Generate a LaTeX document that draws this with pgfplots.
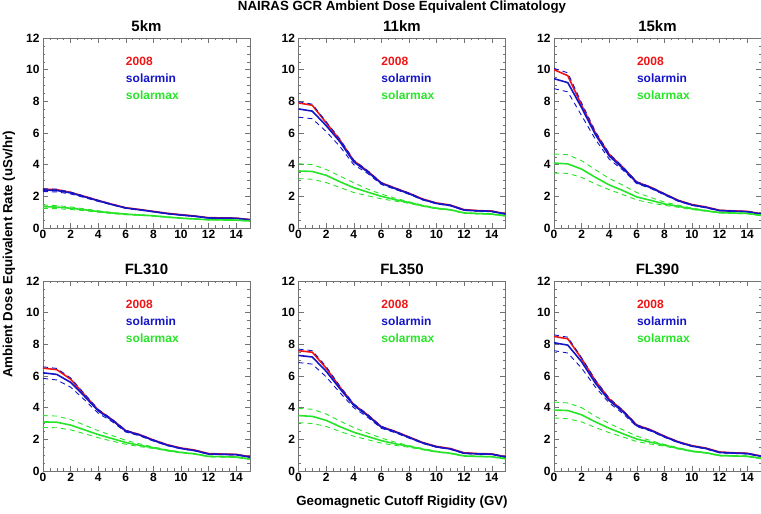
\documentclass[border=0pt]{standalone}
\usepackage{fontspec}
\setmainfont{Liberation Sans}
\usepackage{pgfplots}
\usepackage{pgfplotstable}
\pgfplotsset{compat=1.18}
\usepgfplotslibrary{groupplots}

\definecolor{cred}{RGB}{240,20,20}
\definecolor{cblue}{RGB}{20,20,200}
\definecolor{cgreen}{RGB}{40,228,40}

% columns: rigidity, 2008, solarmin (mean, upper, lower), solarmax (mean, upper, lower)
\pgfplotstableread{
x r b bu bl g gu gl
0 2.45 2.40 2.48 2.30 1.35 1.45 1.24
1 2.42 2.37 2.45 2.28 1.32 1.42 1.22
2 2.25 2.22 2.27 2.15 1.25 1.33 1.17
3 2.00 1.97 2.01 1.92 1.15 1.21 1.09
4 1.74 1.72 1.75 1.68 1.04 1.09 1.00
5 1.50 1.48 1.50 1.46 0.95 0.98 0.91
6 1.28 1.26 1.28 1.24 0.87 0.90 0.84
7 1.17 1.15 1.16 1.13 0.82 0.84 0.80
8 1.05 1.03 1.04 1.02 0.77 0.79 0.75
9 0.93 0.91 0.92 0.90 0.69 0.70 0.67
10 0.84 0.82 0.83 0.81 0.62 0.63 0.61
11 0.76 0.74 0.75 0.73 0.57 0.58 0.56
12 0.65 0.63 0.64 0.62 0.52 0.53 0.51
13 0.64 0.62 0.63 0.61 0.51 0.52 0.50
14 0.62 0.61 0.62 0.60 0.50 0.51 0.49
15 0.53 0.52 0.53 0.51 0.44 0.45 0.43
}\tfive

\pgfplotstableread{
x r b bu bl g gu gl
0 7.90 7.52 7.98 7.00 3.60 4.06 3.12
1 7.75 7.38 7.82 6.90 3.57 4.00 3.08
2 6.65 6.47 6.72 6.10 3.33 3.70 2.87
3 5.55 5.45 5.62 5.15 2.92 3.28 2.56
4 4.25 4.18 4.30 4.00 2.55 2.86 2.24
5 3.60 3.55 3.63 3.45 2.27 2.46 2.04
6 2.85 2.82 2.87 2.75 2.00 2.14 1.84
7 2.52 2.49 2.53 2.44 1.79 1.88 1.70
8 2.20 2.17 2.21 2.13 1.61 1.66 1.56
9 1.83 1.80 1.83 1.77 1.40 1.44 1.37
10 1.58 1.55 1.58 1.53 1.24 1.27 1.21
11 1.45 1.42 1.45 1.40 1.15 1.17 1.13
12 1.16 1.13 1.15 1.11 0.95 0.97 0.93
13 1.10 1.08 1.10 1.06 0.91 0.93 0.89
14 1.07 1.05 1.07 1.03 0.88 0.90 0.86
15 0.90 0.88 0.90 0.86 0.77 0.79 0.75
}\televen

\pgfplotstableread{
x r b bu bl g gu gl
0 10.00 9.43 10.08 8.80 4.10 4.67 3.47
1 9.62 9.18 9.80 8.60 4.05 4.63 3.45
2 7.75 7.60 7.90 7.10 3.72 4.25 3.20
3 6.00 5.90 6.10 5.60 3.20 3.68 2.78
4 4.66 4.55 4.70 4.35 2.72 3.13 2.42
5 3.82 3.76 3.86 3.65 2.36 2.70 2.10
6 2.90 2.86 2.92 2.80 1.96 2.24 1.77
7 2.58 2.55 2.60 2.50 1.75 1.93 1.58
8 2.16 2.13 2.17 2.09 1.52 1.63 1.43
9 1.75 1.72 1.75 1.69 1.37 1.44 1.31
10 1.48 1.45 1.48 1.43 1.21 1.26 1.17
11 1.33 1.30 1.32 1.28 1.09 1.12 1.06
12 1.12 1.10 1.12 1.08 0.97 0.99 0.95
13 1.08 1.06 1.08 1.04 0.94 0.96 0.92
14 1.05 1.03 1.05 1.01 0.92 0.94 0.90
15 0.90 0.88 0.90 0.86 0.80 0.82 0.78
}\tfifteen

\pgfplotstableread{
x r b bu bl g gu gl
0 6.50 6.20 6.58 5.85 3.10 3.50 2.75
1 6.40 6.10 6.48 5.75 3.08 3.47 2.73
2 5.80 5.60 5.88 5.30 2.90 3.25 2.60
3 4.82 4.72 4.88 4.50 2.60 2.90 2.36
4 3.85 3.80 3.90 3.65 2.30 2.55 2.10
5 3.25 3.21 3.28 3.12 2.05 2.24 1.89
6 2.55 2.52 2.57 2.46 1.80 1.94 1.69
7 2.30 2.27 2.31 2.22 1.62 1.71 1.54
8 1.96 1.93 1.97 1.89 1.47 1.52 1.42
9 1.66 1.63 1.66 1.60 1.30 1.34 1.27
10 1.45 1.42 1.45 1.40 1.17 1.20 1.14
11 1.32 1.29 1.31 1.27 1.08 1.10 1.06
12 1.10 1.07 1.09 1.05 0.92 0.94 0.90
13 1.07 1.05 1.07 1.03 0.90 0.92 0.88
14 1.05 1.03 1.05 1.01 0.88 0.90 0.86
15 0.90 0.88 0.90 0.86 0.75 0.77 0.73
}\tfltten

\pgfplotstableread{
x r b bu bl g gu gl
0 7.60 7.30 7.70 6.85 3.50 3.95 3.05
1 7.50 7.20 7.60 6.75 3.45 3.90 3.00
2 6.50 6.30 6.60 5.95 3.20 3.60 2.82
3 5.30 5.20 5.36 4.95 2.80 3.15 2.50
4 4.20 4.15 4.25 4.00 2.45 2.75 2.20
5 3.55 3.50 3.58 3.40 2.18 2.40 1.98
6 2.80 2.77 2.82 2.70 1.92 2.08 1.76
7 2.50 2.47 2.51 2.42 1.72 1.82 1.62
8 2.15 2.12 2.16 2.08 1.56 1.61 1.50
9 1.80 1.77 1.80 1.74 1.38 1.42 1.34
10 1.55 1.52 1.55 1.50 1.22 1.25 1.19
11 1.42 1.39 1.41 1.37 1.12 1.14 1.10
12 1.15 1.12 1.14 1.10 0.95 0.97 0.93
13 1.10 1.08 1.10 1.06 0.92 0.94 0.90
14 1.08 1.06 1.08 1.04 0.90 0.92 0.88
15 0.90 0.88 0.90 0.86 0.78 0.80 0.76
}\tflfifty

\pgfplotstableread{
x r b bu bl g gu gl
0 8.50 8.10 8.60 7.60 3.85 4.35 3.35
1 8.35 7.95 8.45 7.45 3.82 4.30 3.30
2 7.10 6.90 7.15 6.50 3.55 4.00 3.10
3 5.70 5.55 5.75 5.30 3.10 3.45 2.75
4 4.55 4.45 4.60 4.30 2.70 3.00 2.42
5 3.80 3.74 3.83 3.62 2.35 2.60 2.15
6 2.90 2.86 2.92 2.80 2.02 2.20 1.86
7 2.60 2.57 2.61 2.52 1.82 1.92 1.70
8 2.20 2.17 2.21 2.13 1.63 1.68 1.57
9 1.85 1.82 1.85 1.79 1.43 1.47 1.39
10 1.60 1.57 1.60 1.55 1.25 1.28 1.22
11 1.45 1.42 1.44 1.40 1.15 1.17 1.13
12 1.20 1.17 1.19 1.15 0.98 1.00 0.96
13 1.15 1.13 1.15 1.11 0.95 0.97 0.93
14 1.12 1.10 1.12 1.08 0.93 0.95 0.91
15 0.95 0.93 0.95 0.91 0.80 0.82 0.78
}\tflninety

% one panel: 2008, solarmin band, solarmax band, and the coloured key
\newcommand{\panel}[1]{
  \addplot[cred, line width=1.6pt] table[x=x, y=r]{#1};
  \addplot[cblue, line width=0.9pt, dash pattern=on 5pt off 4pt] table[x=x, y=bu]{#1};
  \addplot[cblue, line width=0.9pt, dash pattern=on 5pt off 4pt] table[x=x, y=bl]{#1};
  \addplot[cblue, line width=1.6pt] table[x=x, y=b]{#1};
  \addplot[cgreen, line width=0.9pt, dash pattern=on 5pt off 4pt] table[x=x, y=gu]{#1};
  \addplot[cgreen, line width=0.9pt, dash pattern=on 5pt off 4pt] table[x=x, y=gl]{#1};
  \addplot[cgreen, line width=1.6pt] table[x=x, y=g]{#1};
  \node[anchor=west, text=cred, inner sep=0pt] at (axis cs:6,10.5) {2008};
  \node[anchor=west, text=cblue, inner sep=0pt] at (axis cs:6,9.43) {solarmin};
  \node[anchor=west, text=cgreen, inner sep=0pt] at (axis cs:6,8.36) {solarmax};
}

\begin{document}
\begin{tikzpicture}[font=\bfseries\fontsize{12}{14}\selectfont]
\begin{groupplot}[
  group style={group size=3 by 2, group name=G,
    horizontal sep=48.5pt, vertical sep=53pt},
  scale only axis, width=207pt, height=190pt,
  xmin=0, xmax=15, ymin=0, ymax=12,
  xtick={0,2,...,14}, ytick={0,2,...,12},
  minor tick num=3,
  tick align=inside,
  major tick length=5pt, minor tick length=2.5pt,
  tick style={black!55, thin},
  axis line style={black!55, thin},
  /pgf/number format/assume math mode=true,
  ticklabel style={font=\bfseries\fontsize{12}{14}\selectfont},
  xticklabel style={yshift=1pt},
  title style={font=\bfseries\fontsize{15}{17}\selectfont, yshift=-3pt},
]
\nextgroupplot[title={5km}]
\panel{\tfive}
\nextgroupplot[title={11km}]
\panel{\televen}
\nextgroupplot[title={15km}]
\panel{\tfifteen}
\nextgroupplot[title={FL310}]
\panel{\tfltten}
\nextgroupplot[title={FL350}]
\panel{\tflfifty}
\nextgroupplot[title={FL390}]
\panel{\tflninety}
\end{groupplot}

\node[font=\bfseries\fontsize{13.3}{15}\selectfont] at ([xshift=359pt, yshift=31pt]G c1r1.north west)
  {NAIRAS GCR Ambient Dose Equivalent Climatology};
\node[font=\bfseries\fontsize{13.3}{15}\selectfont, rotate=90] at ([xshift=-34pt, yshift=-216.5pt]G c1r1.north west)
  {Ambient Dose Equivalent Rate (uSv/hr)};
\node[font=\bfseries\fontsize{13.3}{15}\selectfont] at ([xshift=359pt, yshift=-464pt]G c1r1.north west)
  {Geomagnetic Cutoff Rigidity (GV)};

\pgfresetboundingbox
\path[use as bounding box] ([xshift=-43pt, yshift=38pt]G c1r1.north west)
  rectangle ([xshift=718pt, yshift=-476pt]G c1r1.north west);
\end{tikzpicture}
\end{document}
